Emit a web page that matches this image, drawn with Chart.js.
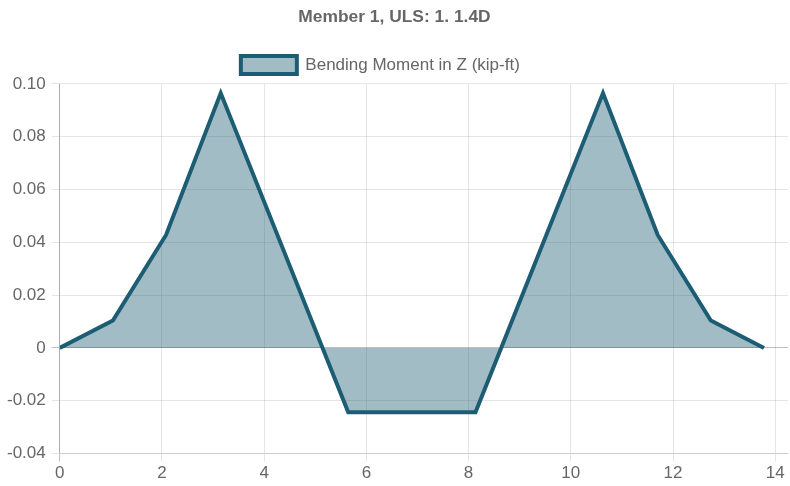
<!DOCTYPE html>
<html>
<head>
<meta charset="utf-8">
<script src="https://cdn.jsdelivr.net/npm/chart.js@4/dist/chart.umd.min.js"></script>
<style>
html,body{margin:0;padding:0;background:#fff;}
#wrap{width:790px;height:486px;}
</style>
</head>
<body>
<div id="wrap"><canvas id="c"></canvas></div>
<script>
const chartTitle = 'Member 1, ULS: 1. 1.4D';
const seriesLabel = 'Bending Moment in Z (kip-ft)';
const positions = [0, 1.04, 2.08, 3.15, 5.645, 8.135, 10.63, 11.70, 12.74, 13.78];
const moments   = [0, 0.0104, 0.0428, 0.0965, -0.0243, -0.0243, 0.0965, 0.0428, 0.0104, 0];
const xTicks = [0, 2, 4, 6, 8, 10, 12, 14];
const yTicks = [-0.04, -0.02, 0, 0.02, 0.04, 0.06, 0.08, 0.10];

const points = positions.map((x, i) => ({x: x, y: moments[i]}));
const gridColor = ctx => (ctx.tick && ctx.tick.value === 0) ? 'rgba(0,0,0,0.25)' : 'rgba(0,0,0,0.1)';

Chart.defaults.font.family = "'Liberation Sans', Arial, sans-serif";
Chart.defaults.color = '#666';

new Chart(document.getElementById('c'), {
  type: 'line',
  data: {
    datasets: [{
      label: seriesLabel,
      data: points,
      borderColor: 'rgb(28,93,116)',
      backgroundColor: 'rgba(28,93,116,0.41)',
      borderWidth: 4,
      fill: 'origin',
      pointRadius: 0,
      tension: 0
    }]
  },
  options: {
    responsive: true,
    maintainAspectRatio: false,
    animation: false,
    layout: {padding: {right: 2, left: 1, top: 1}},
    plugins: {
      title: {display: true, text: chartTitle, font: {size: 17.4, weight: 'bold'}, color: '#666', padding: {top: 6, bottom: 8}},
      legend: {labels: {font: {size: 17}, boxWidth: 56, boxHeight: 18, color: '#666', padding: 20,
        generateLabels: chart => {
          const items = Chart.defaults.plugins.legend.labels.generateLabels(chart);
          items.forEach(it => { it.text = it.text + '\u00a0\u00a0\u00a0\u00a0\u00a0\u00a0'; });
          return items;
        }}},
      tooltip: {enabled: false}
    },
    scales: {
      x: {
        type: 'linear',
        min: 0, max: 14.25,
        afterBuildTicks: s => { s.ticks = xTicks.map(v => ({value: v})); },
        ticks: {font: {size: 17}, color: '#666', padding: 2},
        grid: {color: gridColor}
      },
      y: {
        min: -0.04, max: 0.10,
        afterBuildTicks: s => { s.ticks = yTicks.map(v => ({value: v})); },
        ticks: {font: {size: 17}, color: '#666', padding: 6,
          callback: v => v === 0 ? '0' : Number(v).toFixed(2)},
        grid: {color: gridColor}
      }
    }
  }
});
</script>
</body>
</html>
